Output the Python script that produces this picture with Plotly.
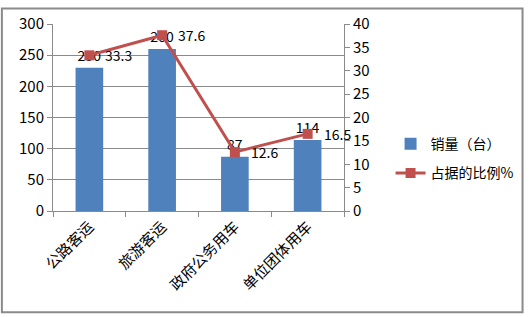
import plotly.graph_objects as go

categories = ["公路客运", "旅游客运", "政府公务用车", "单位团体用车"]
sales = [230, 260, 87, 114]
ratio = [33.3, 37.6, 12.6, 16.5]
bar_name = "销量（台）"
line_name = "占据的比例%"

FONT = "Noto Sans CJK SC, Liberation Sans, sans-serif"
GRID = "#8a8a8a"

fig = go.Figure()
fig.add_trace(go.Bar(
    x=categories, y=sales, name=bar_name, legendgroup="a",
    marker=dict(color="#4F81BD", line=dict(width=0)),
    width=0.38,
    text=[str(v) for v in sales], textposition="outside",
    textfont=dict(size=14, color="#000000"),
    cliponaxis=False,
))
fig.add_trace(go.Scatter(
    x=categories, y=ratio, name=line_name, yaxis="y2", legendgroup="b",
    mode="lines+markers",
    line=dict(color="#C0504D", width=3),
    marker=dict(symbol="square", size=10, color="#C0504D"),
    cliponaxis=False,
))

annotations = [
    dict(x=c, y=r, xref="x", yref="y2", text=str(r), showarrow=False,
         xanchor="left", yanchor="middle", xshift=14,
         font=dict(size=14, color="#000000"))
    for c, r in zip(categories, ratio)
]

fig.update_layout(
    width=530, height=317,
    margin=dict(l=53, r=182, t=17, b=106),
    paper_bgcolor="white", plot_bgcolor="white",
    font=dict(family=FONT, size=14, color="#000000"),
    showlegend=True,
    legend=dict(x=1.16, xanchor="left", y=0.28, yanchor="middle",
                font=dict(size=14), itemwidth=30, tracegroupgap=8,
                traceorder="grouped",
                bgcolor="rgba(0,0,0,0)"),
    xaxis=dict(
        type="category", range=[-0.5, len(categories) - 0.5], autorange=False,
        tickangle=-45, tickson="boundaries", ticks="outside", ticklen=5,
        tickcolor=GRID, showline=True, linecolor=GRID, linewidth=1,
        showgrid=False, tickfont=dict(size=15),
    ),
    yaxis=dict(
        range=[0, 300], dtick=50, ticks="outside", ticklen=5, tickcolor=GRID,
        showline=True, linecolor=GRID, linewidth=1,
        showgrid=True, gridcolor=GRID, gridwidth=1, zeroline=False,
        tickfont=dict(size=15),
    ),
    yaxis2=dict(
        range=[0, 40], dtick=5, overlaying="y", side="right",
        ticks="outside", ticklen=5, tickcolor=GRID,
        showline=True, linecolor=GRID, linewidth=1,
        showgrid=False, zeroline=False, tickfont=dict(size=15),
    ),
    bargap=0.62,
    annotations=annotations,
    shapes=[dict(type="rect", xref="paper", yref="paper",
                 x0=-53/295 + 0.004, x1=1 + 181/295, y0=-105/194, y1=1 + 16/194,
                 line=dict(color="#8a8a8a", width=2), fillcolor="rgba(0,0,0,0)")],
)

fig.write_html("out.html")
